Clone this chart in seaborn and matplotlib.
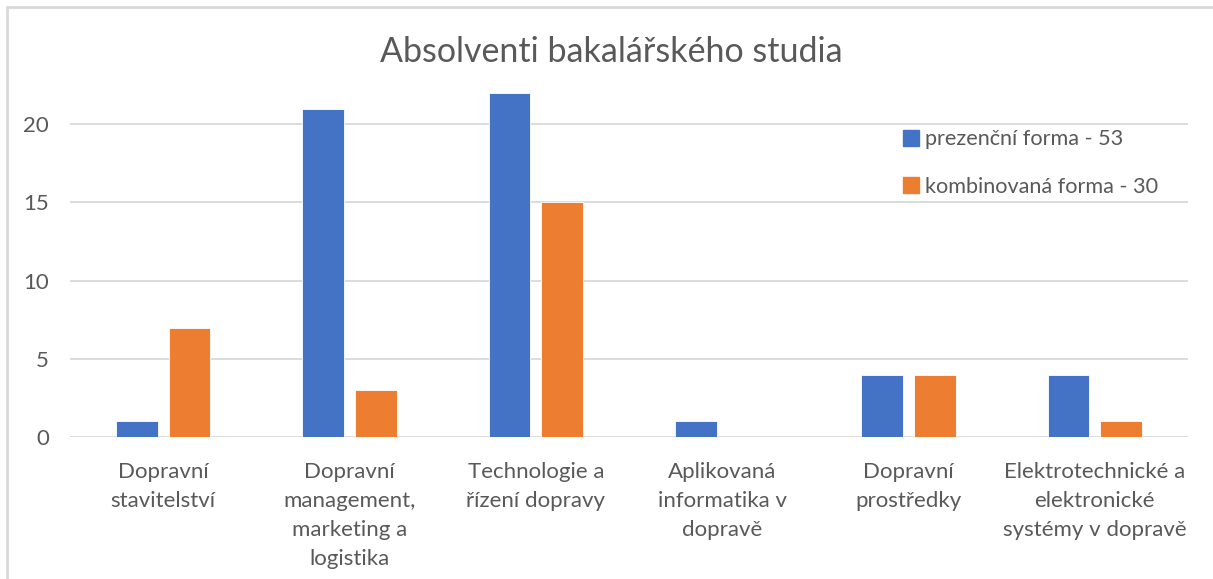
import matplotlib
matplotlib.use("Agg")
import matplotlib.pyplot as plt
import seaborn as sns
import pandas as pd
from matplotlib.lines import Line2D

categories = [
    "Dopravní\nstavitelství",
    "Dopravní\nmanagement,\nmarketing a\nlogistika",
    "Technologie a\nřízení dopravy",
    "Aplikovaná\ninformatika v\ndopravě",
    "Dopravní\nprostředky",
    "Elektrotechnické a\nelektronické\nsystémy v dopravě",
]
prezencni = [1, 21, 22, 1, 4, 4]
kombinovana = [7, 3, 15, 0, 4, 1]
series_names = ["prezenční forma - 53", "kombinovaná forma - 30"]
yticks = [0, 5, 10, 15, 20]

colors = ["#4472C4", "#ED7D31"]
text_color = "#595959"
grid_color = "#D9D9D9"
font = "Lato"

df = pd.DataFrame({
    "kategorie": categories * 2,
    "hodnota": prezencni + kombinovana,
    "forma": [series_names[0]] * len(categories) + [series_names[1]] * len(categories),
})

sns.set_theme(style="white")
plt.rcParams["font.family"] = [font, "DejaVu Sans"]

fig = plt.figure(figsize=(12.13, 5.79), dpi=100)
ax = fig.add_axes([70 / 1213, 0.245, 1118 / 1213, 0.6])

sns.barplot(data=df, x="kategorie", y="hodnota", hue="forma", palette=colors, saturation=1,
            width=0.565, gap=0.21, ax=ax, legend=False, edgecolor="white", linewidth=0.6)

ax.set_ylim(0, 22.2)
ax.set_xlim(-0.5, len(categories) - 0.5)
ax.set_yticks(yticks)
for y in yticks:
    ax.axhline(y, color=grid_color, lw=1.3, zorder=0)
for s in ax.spines.values():
    s.set_visible(False)
ax.set_xlabel("")
ax.set_ylabel("")
ax.tick_params(axis="y", length=0, pad=15, labelsize=16, labelcolor=text_color)
ax.tick_params(axis="x", length=0, pad=18, labelsize=16, labelcolor=text_color)
ax.set_xticks(range(len(categories)))
ax.set_xticklabels(categories, linespacing=1.55, va="top")

fig.text(611 / 1213, 1 - 52 / 579, "Absolventi bakalářského studia", ha="center", va="center",
         fontsize=24.5, color=text_color)

handles = [Line2D([], [], marker="s", linestyle="", markersize=11, color=c) for c in colors]
leg = fig.legend(handles, series_names, loc="upper left", bbox_to_anchor=(878 / 1213, 1 - 110 / 579),
                 frameon=False, fontsize=15.6, labelspacing=1.25, handletextpad=0.05,
                 handlelength=1.2, labelcolor=text_color)

# chart border (partially visible)
fig.add_artist(Line2D([7 / 1213, 1], [1 - 7 / 579, 1 - 7 / 579], transform=fig.transFigure, color=grid_color, lw=2))
fig.add_artist(Line2D([7 / 1213, 7 / 1213], [0, 1 - 7 / 579], transform=fig.transFigure, color=grid_color, lw=2))

fig.savefig("out.png", dpi=100, facecolor="white")
